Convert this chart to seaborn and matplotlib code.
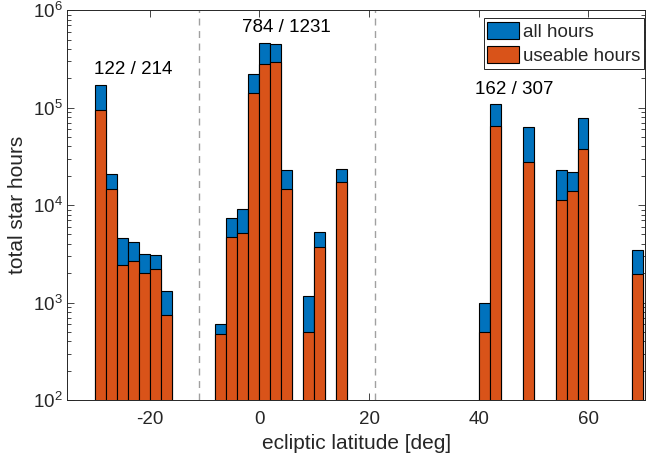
import numpy as np
import pandas as pd
import matplotlib
matplotlib.use("Agg")
import matplotlib.pyplot as plt
from matplotlib.patches import Patch
from matplotlib.ticker import LogLocator, NullFormatter
import seaborn as sns

# bin centers (deg), 2-deg bins
lat_centers = [-29, -27, -25, -23, -21, -19, -17,
               -7, -5, -3, -1, 1, 3, 5, 9, 11, 15,
               41, 43, 49, 55, 57, 59, 69]
all_hours = [1.70e5, 2.07e4, 4.64e3, 4.23e3, 3.15e3, 3.10e3, 1.31e3,
             608, 7.35e3, 9.1e3, 2.22e5, 4.64e5, 4.50e5, 2.31e4, 1.16e3, 5.27e3, 2.35e4,
             984, 1.08e5, 6.33e4, 2.27e4, 2.20e4, 7.76e4, 3.43e3]
useable_hours = [9.5e4, 1.47e4, 2.41e3, 2.69e3, 2.02e3, 2.22e3, 752,
                 475, 4.75e3, 5.22e3, 1.40e5, 2.82e5, 2.98e5, 1.47e4, 494, 3.69e3, 1.73e4,
                 502, 6.47e4, 2.76e4, 1.12e4, 1.40e4, 3.80e4, 1.98e3]
group_labels = ["122 / 214", "784 / 1231", "162 / 307"]
group_label_x = [-22.9, 4.9, 46.4]
group_label_y = [2.44e5, 6.6e5, 1.55e5]
divider_x = [-11, 21]

df = pd.DataFrame({"lat": lat_centers, "all": all_hours, "use": useable_hours})

sns.set_style("ticks")
plt.rcParams["font.family"] = ["Liberation Sans", "DejaVu Sans"]
plt.rcParams["axes.unicode_minus"] = False

blue = "#0072BD"
orange = "#D95319"
fs = 13.5

fig = plt.figure(figsize=(6.53, 4.65), dpi=100)
ax = fig.add_axes([67.3 / 653, 65 / 465, (645 - 67.3) / 653, (400 - 10.3) / 465])

sns.histplot(data=df, x="lat", weights="all", binwidth=2, binrange=(-30, 70),
             color=blue, alpha=1, edgecolor="black", linewidth=0.8, ax=ax)
sns.histplot(data=df, x="lat", weights="use", binwidth=2, binrange=(-30, 70),
             color=orange, alpha=1, edgecolor="black", linewidth=0.8, ax=ax)

ax.set_yscale("log")
ax.set_ylim(1e2, 1e6)
ax.set_xlim(-35, 70.3)
ax.set_xticks([-20, 0, 20, 40, 60])
ax.yaxis.set_major_locator(LogLocator(base=10, numticks=10))
ax.yaxis.set_minor_locator(LogLocator(base=10, subs=np.arange(2, 10), numticks=20))
ax.yaxis.set_minor_formatter(NullFormatter())

for xv in divider_x:
    ax.axvline(xv, color="#a0a0a0", linestyle=(0, (5, 4)), linewidth=1.0, zorder=0)

for t, xv, yv in zip(group_labels, group_label_x, group_label_y):
    ax.text(xv, yv, t, ha="center", va="center", fontsize=fs, color="black")

ax.set_xlabel("ecliptic latitude [deg]", fontsize=15, color="#262626", labelpad=4)
ax.set_ylabel("total star hours", fontsize=15, color="#262626", labelpad=4)

for s in ax.spines.values():
    s.set_color("#262626")
    s.set_linewidth(0.7)
    s.set_visible(True)
ax.tick_params(which="both", direction="in", top=True, right=True, colors="#262626",
               labelsize=fs, width=0.6)
ax.tick_params(which="major", length=5)
ax.tick_params(which="minor", length=3)
ax.tick_params(axis="x", which="major", pad=8)

handles = [Patch(facecolor=blue, edgecolor="black", linewidth=0.8, label="all hours"),
           Patch(facecolor=orange, edgecolor="black", linewidth=0.8, label="useable hours")]
leg = ax.legend(handles=handles, loc="upper right", fontsize=fs, frameon=True,
                fancybox=False, edgecolor="#262626", framealpha=1,
                bbox_to_anchor=(644 / 653, 1 - 18.3 / 465), bbox_transform=fig.transFigure,
                borderaxespad=0, handlelength=1.7, handleheight=1.0,
                handletextpad=0.2, borderpad=0.2, labelspacing=0.3)
leg.get_frame().set_linewidth(0.7)

fig.savefig("out.png", dpi=100)
